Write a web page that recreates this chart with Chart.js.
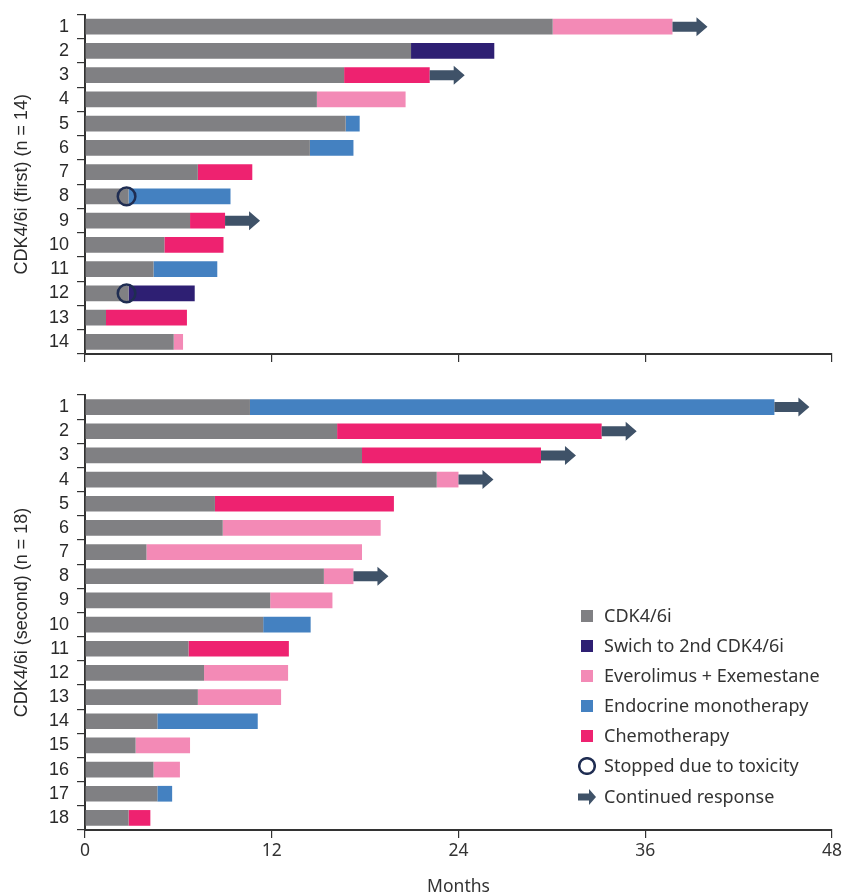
<!DOCTYPE html>
<html>
<head>
<meta charset="utf-8">
<script src="https://cdn.jsdelivr.net/npm/chart.js@4"></script>
<style>
	body { margin: 0; background: #fff; }
	#wrap { position: relative; width: 845px; height: 895px; }
	#wrap canvas { position: absolute; left: 0; }
	#legend { position: absolute; left: 578px; top: 0; font-family: "Noto Sans", sans-serif; font-size: 18px; color: #333; }
	#legend .item { position: absolute; left: 0; height: 20px; white-space: nowrap; }
	#legend svg { position: absolute; left: 0; top: 1px; }
	#legend span { position: absolute; left: 26px; top: -1px; line-height: 20px; }
</style>
</head>
<body>
<div id="wrap">
	<canvas id="firstChart" style="top:0px"></canvas>
	<canvas id="secondChart" style="top:380px"></canvas>
	<div id="legend"></div>
</div>
<script>
// months on CDK4/6i, then months on the following treatment
var firstLabels = ["1","2","3","4","5","6","7","8","9","10","11","12","13","14"];
var firstCdk = [30.05, 20.95, 16.65, 14.9, 16.75, 14.45, 7.25, 2.8, 6.75, 5.1, 4.4, 2.8, 1.35, 5.7];
var firstNext = [7.7, 5.35, 5.5, 5.7, 0.9, 2.8, 3.5, 6.55, 2.25, 3.8, 4.1, 4.25, 5.2, 0.6];
var firstNextType = ["evero","switch","chemo","evero","endo","endo","chemo","endo","chemo","chemo","endo","switch","chemo","evero"];
var firstArrows = [0, 2, 8];   // row index with continued response
var firstTox = [7, 11];        // row index stopped due to toxicity

var secondLabels = ["1","2","3","4","5","6","7","8","9","10","11","12","13","14","15","16","17","18"];
var secondCdk = [10.6, 16.2, 17.8, 22.6, 8.35, 8.85, 3.95, 15.35, 11.9, 11.45, 6.65, 7.65, 7.25, 4.65, 3.25, 4.4, 4.65, 2.8];
var secondNext = [33.7, 17.0, 11.5, 1.4, 11.5, 10.15, 13.85, 1.9, 4.0, 3.05, 6.45, 5.4, 5.35, 6.45, 3.5, 1.7, 0.95, 1.4];
var secondNextType = ["endo","chemo","chemo","evero","chemo","evero","evero","evero","evero","endo","chemo","evero","evero","endo","evero","evero","endo","chemo"];
var secondArrows = [0, 1, 2, 3, 7];
var secondTox = [];

var xTicks = [0, 12, 24, 36, 48];

var treatments = [
	{ key: "switch", label: "Swich to 2nd CDK4/6i", color: "#2e1f73" },
	{ key: "evero", label: "Everolimus + Exemestane", color: "#f38ab6" },
	{ key: "endo", label: "Endocrine monotherapy", color: "#4481c1" },
	{ key: "chemo", label: "Chemotherapy", color: "#ee2270" }
];
var cdkColor = "#808083";
var arrowColor = "#3f5268";
var toxColor = "#1f2d52";

// arrows + toxicity circles drawn on top of the bars
var markerPlugin = {
	id: "markers",
	afterDatasetsDraw: function(chart) {
		var opt = chart.options.plugins.markers;
		var ctx = chart.ctx;
		var xs = chart.scales.x, ys = chart.scales.y;
		ctx.save();
		opt.arrows.forEach(function(i) {
			var x0 = xs.getPixelForValue(opt.cdk[i] + opt.next[i]);
			var y = ys.getPixelForValue(i);
			ctx.fillStyle = arrowColor;
			ctx.beginPath();
			ctx.moveTo(x0, y - 5);
			ctx.lineTo(x0 + 24, y - 5);
			ctx.lineTo(x0 + 24, y - 9.5);
			ctx.lineTo(x0 + 35, y);
			ctx.lineTo(x0 + 24, y + 9.5);
			ctx.lineTo(x0 + 24, y + 5);
			ctx.lineTo(x0, y + 5);
			ctx.closePath();
			ctx.fill();
		});
		opt.tox.forEach(function(i) {
			var x = xs.getPixelForValue(opt.cdk[i]) - 2;
			var y = ys.getPixelForValue(i);
			ctx.strokeStyle = toxColor;
			ctx.lineWidth = 2.5;
			ctx.beginPath();
			ctx.arc(x, y, 8.8, 0, Math.PI * 2);
			ctx.stroke();
		});
		ctx.restore();
	}
};

function buildDatasets(cdk, next, types) {
	var sets = [{ label: "CDK4/6i", data: cdk, backgroundColor: cdkColor }];
	treatments.forEach(function(t) {
		sets.push({
			label: t.label,
			data: next.map(function(v, i) { return types[i] == t.key ? v : null; }),
			backgroundColor: t.color
		});
	});
	sets.forEach(function(s) {
		s.barPercentage = 0.65;
		s.categoryPercentage = 1.0;
		s.borderWidth = 0;
	});
	return sets;
}

function makeChart(id, w, h, labels, cdk, next, types, arrows, tox, title, bottom) {
	var cv = document.getElementById(id);
	cv.width = w; cv.height = h;
	cv.style.width = w + "px"; cv.style.height = h + "px";
	return new Chart(cv, {
		type: "bar",
		data: { labels: labels, datasets: buildDatasets(cdk, next, types) },
		plugins: [markerPlugin],
		options: {
			indexAxis: "y",
			responsive: false,
			animation: false,
			devicePixelRatio: 1,
			layout: { padding: { top: bottom ? 15 : 14.5, right: 13, left: 0, bottom: 0 } },
			plugins: {
				legend: { display: false },
				tooltip: { enabled: false },
				markers: { cdk: cdk, next: next, arrows: arrows, tox: tox }
			},
			scales: {
				x: {
					stacked: true,
					min: 0, max: 48,
					afterBuildTicks: function(s) { s.ticks = xTicks.map(function(v) { return { value: v }; }); },
					afterFit: function(s) { s.height = bottom ? 65 : 13; },
					grid: { drawOnChartArea: false, drawTicks: true, tickLength: 8, color: "#333", lineWidth: 1.2 },
					border: { display: true, color: "#333", width: 2 },
					ticks: {
						display: bottom,
						padding: 3,
						color: "#333",
						font: { family: "'Noto Sans', sans-serif", size: 17.5 }
					},
					title: {
						display: bottom,
						text: "Months",
						color: "#333",
						padding: { top: 0, bottom: -3 },
						font: { family: "'Noto Sans', sans-serif", size: 17.5 }
					}
				},
				y: {
					stacked: true,
					afterFit: function(s) {
						s.width = 85;
						s.paddingTop = 0;   // rows fill the whole area
						s.paddingBottom = 0;
					},
					grid: { drawOnChartArea: false, drawTicks: true, tickLength: 8, color: "#333", lineWidth: 1.2 },
					border: { display: true, color: "#333", width: 2 },
					ticks: {
						autoSkip: false,
						padding: 8,
						color: "#2a2a2a",
						font: { family: "'Liberation Sans', Arial, sans-serif", size: 18 }
					},
					title: {
						display: true,
						text: title,
						color: "#2a2a2a",
						padding: { top: 11, bottom: 0 },
						font: { family: "'Liberation Sans', Arial, sans-serif", size: 18 }
					}
				}
			}
		}
	});
}

makeChart("firstChart", 845, 367, firstLabels, firstCdk, firstNext, firstNextType, firstArrows, firstTox, "CDK4/6i (first) (n = 14)", false);
makeChart("secondChart", 845, 515, secondLabels, secondCdk, secondNext, secondNextType, secondArrows, secondTox, "CDK4/6i (second) (n = 18)", true);

// legend (html)
var legendItems = [{ label: "CDK4/6i", color: cdkColor, kind: "box" }];
treatments.forEach(function(t) { legendItems.push({ label: t.label, color: t.color, kind: "box" }); });
legendItems.push({ label: "Stopped due to toxicity", color: toxColor, kind: "circle" });
legendItems.push({ label: "Continued response", color: arrowColor, kind: "arrow" });

var legendTops = [606, 636, 666, 696, 726, 756, 787];
var html = "";
legendItems.forEach(function(it, i) {
	var icon;
	if (it.kind == "box") {
		icon = '<rect x="3" y="3" width="12" height="12" fill="' + it.color + '"/>';
	} else if (it.kind == "circle") {
		icon = '<circle cx="9" cy="9" r="7.8" fill="none" stroke="' + it.color + '" stroke-width="2.5"/>';
	} else {
		icon = '<polygon points="0,5.5 11,5.5 11,1 18,9 11,17 11,12.5 0,12.5" fill="' + it.color + '"/>';
	}
	html += '<div class="item" style="top:' + legendTops[i] + 'px"><svg width="18" height="18">' + icon + '</svg><span>' + it.label + '</span></div>';
});
document.getElementById("legend").innerHTML = html;
</script>
</body>
</html>
